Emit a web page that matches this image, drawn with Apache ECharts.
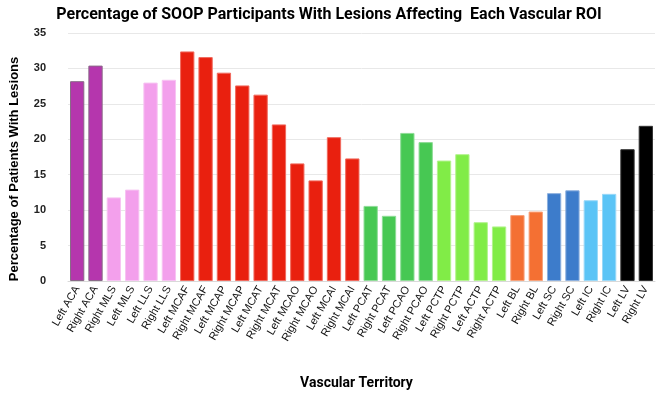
<!DOCTYPE html>
<html><head><meta charset="utf-8">
<script src="https://cdn.jsdelivr.net/npm/echarts@6/dist/echarts.min.js"></script>
<style>html,body{margin:0;padding:0;background:#fff}#c{width:658px;height:395px}</style>
</head><body><div id="c"></div>
<script>
const categories = ['Left ACA','Right ACA','Right MLS','Left MLS','Left LLS','Right LLS','Left MCAF','Right MCAF','Left MCAP','Right MCAP','Left MCAT','Right MCAT','Left MCAO','Right MCAO','Left MCAI','Right MCAI','Left PCAT','Right PCAT','Left PCAO','Right PCAO','Left PCTP','Right PCTP','Left ACTP','Right ACTP','Left BL','Right BL','Left SC','Right SC','Left IC','Right IC','Left LV','Right LV'];
const values = [28.2,30.4,11.8,12.9,28.0,28.4,32.4,31.6,29.4,27.6,26.3,22.1,16.6,14.2,20.3,17.3,10.6,9.2,20.9,19.6,17.0,17.9,8.3,7.7,9.3,9.8,12.4,12.8,11.4,12.3,18.6,21.9];
const groupOf = [0,0,1,1,1,1,2,2,2,2,2,2,2,2,2,2,3,3,3,3,4,4,4,4,5,5,6,6,7,7,8,8];
const groupColors = ['#B536AD','#F3A0EC','#E9200F','#47C853','#81EC47','#F47033','#3D7CCB','#5BC4F6','#000000'];
const groupBorders = ['#8a6a88','#f7c3f2','#f06a5e','#8fdc97','#b3f38e','#f8a27a','#8db0de','#9ad9f8','#333333'];
const yTicks = [0,5,10,15,20,25,30,35];

const chart = echarts.init(document.getElementById('c'));
chart.setOption({
  animation:false,
  title:{text:'Percentage of SOOP Participants With Lesions Affecting  Each Vascular ROI',left:'center',top:2,
    textStyle:{fontFamily:'Roboto, sans-serif',fontWeight:'bold',fontSize:16,color:'#000'}},
  grid:{left:57,right:3,top:33,bottom:107},
  xAxis:{type:'category',data:categories,name:'Vascular Territory',nameLocation:'middle',nameGap:95,
    nameTextStyle:{fontFamily:'Roboto, sans-serif',fontWeight:'bold',fontSize:14,color:'#000',padding:[0,10,0,0]},
    axisLine:{lineStyle:{color:'#d9d9d9'}},axisTick:{show:false},
    axisLabel:{rotate:60,interval:0,fontSize:11,color:'#111',fontFamily:'Liberation Sans, sans-serif',margin:6}},
  yAxis:{type:'value',min:0,max:35,interval:5,name:'Percentage of Patients With Lesions',nameLocation:'middle',nameGap:47,
    nameTextStyle:{fontFamily:'Liberation Sans, sans-serif',fontWeight:'bold',fontSize:13,color:'#000',padding:[0,24,0,0]},
    axisLabel:{fontWeight:'bold',fontSize:11,color:'#222',fontFamily:'Liberation Sans, sans-serif',margin:22,
      formatter:v=>yTicks.includes(v)?String(v):''},
    splitLine:{lineStyle:{color:'#e8e8e8'}},axisLine:{show:false},axisTick:{show:false}},
  series:[{type:'bar',barCategoryGap:'22%',
    data:values.map((v,i)=>({value:v,itemStyle:{color:groupColors[groupOf[i]],borderColor:groupBorders[groupOf[i]],borderWidth:1}}))}]
});
</script></body></html>
